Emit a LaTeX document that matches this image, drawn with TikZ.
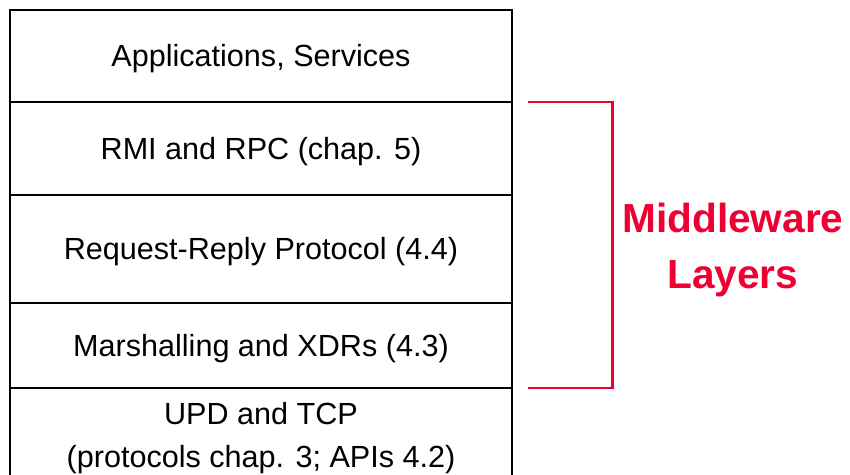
\documentclass[tikz,border=0pt]{standalone}
\usepackage{fontspec}
\setmainfont{Liberation Sans}
\usepackage{xcolor}
\usetikzlibrary{positioning}
\definecolor{mwred}{RGB}{238,0,51}

\begin{document}
\begin{tikzpicture}[
    layer/.style={draw, line width=0.8pt, outer sep=0pt, minimum width=10.04cm,
      align=center, font=\fontsize{17.4}{24.4}\selectfont},
    oneline/.style={text height=12.5pt, text depth=0pt},
    bracket/.style={draw=mwred, line width=1.7pt},
  ]
  \clip (0,0) rectangle (17,-9.5);
  \node[layer, oneline, minimum height=1.84cm, anchor=north west] (apps) at (0.2,-0.2) {Applications, Services};
  \node[layer, oneline, minimum height=1.86cm, below=0pt of apps] (rmi) {RMI and RPC (chap. 5)};
  \node[layer, oneline, minimum height=2.16cm, below=0pt of rmi] (rrp) {Request-Reply Protocol (4.4)};
  \node[layer, oneline, minimum height=1.70cm, below=0pt of rrp] (xdr) {Marshalling and XDRs (4.3)};
  \node[layer, minimum height=2.10cm, below=0pt of xdr, text depth=0.22cm] (tcp) {UPD and TCP\\(protocols chap. 3; APIs 4.2)};
  % bracket round the middleware rows
  \coordinate (btop) at ([xshift=0.32cm]rmi.north east);
  \coordinate (bbot) at ([xshift=0.32cm]xdr.south east);
  \draw[bracket] (btop) -- ++(1.68,0) coordinate (bcorner) |- (bbot);
  \coordinate (bmid) at (bcorner |- rrp.center);
  \node[right=0.2cm of bmid, inner sep=0pt, align=center, text=mwred,
    font=\fontsize{23.1}{32.3}\selectfont\bfseries, yshift=-0.02cm] (mw) {Middleware\\Layers};
\end{tikzpicture}
\end{document}
